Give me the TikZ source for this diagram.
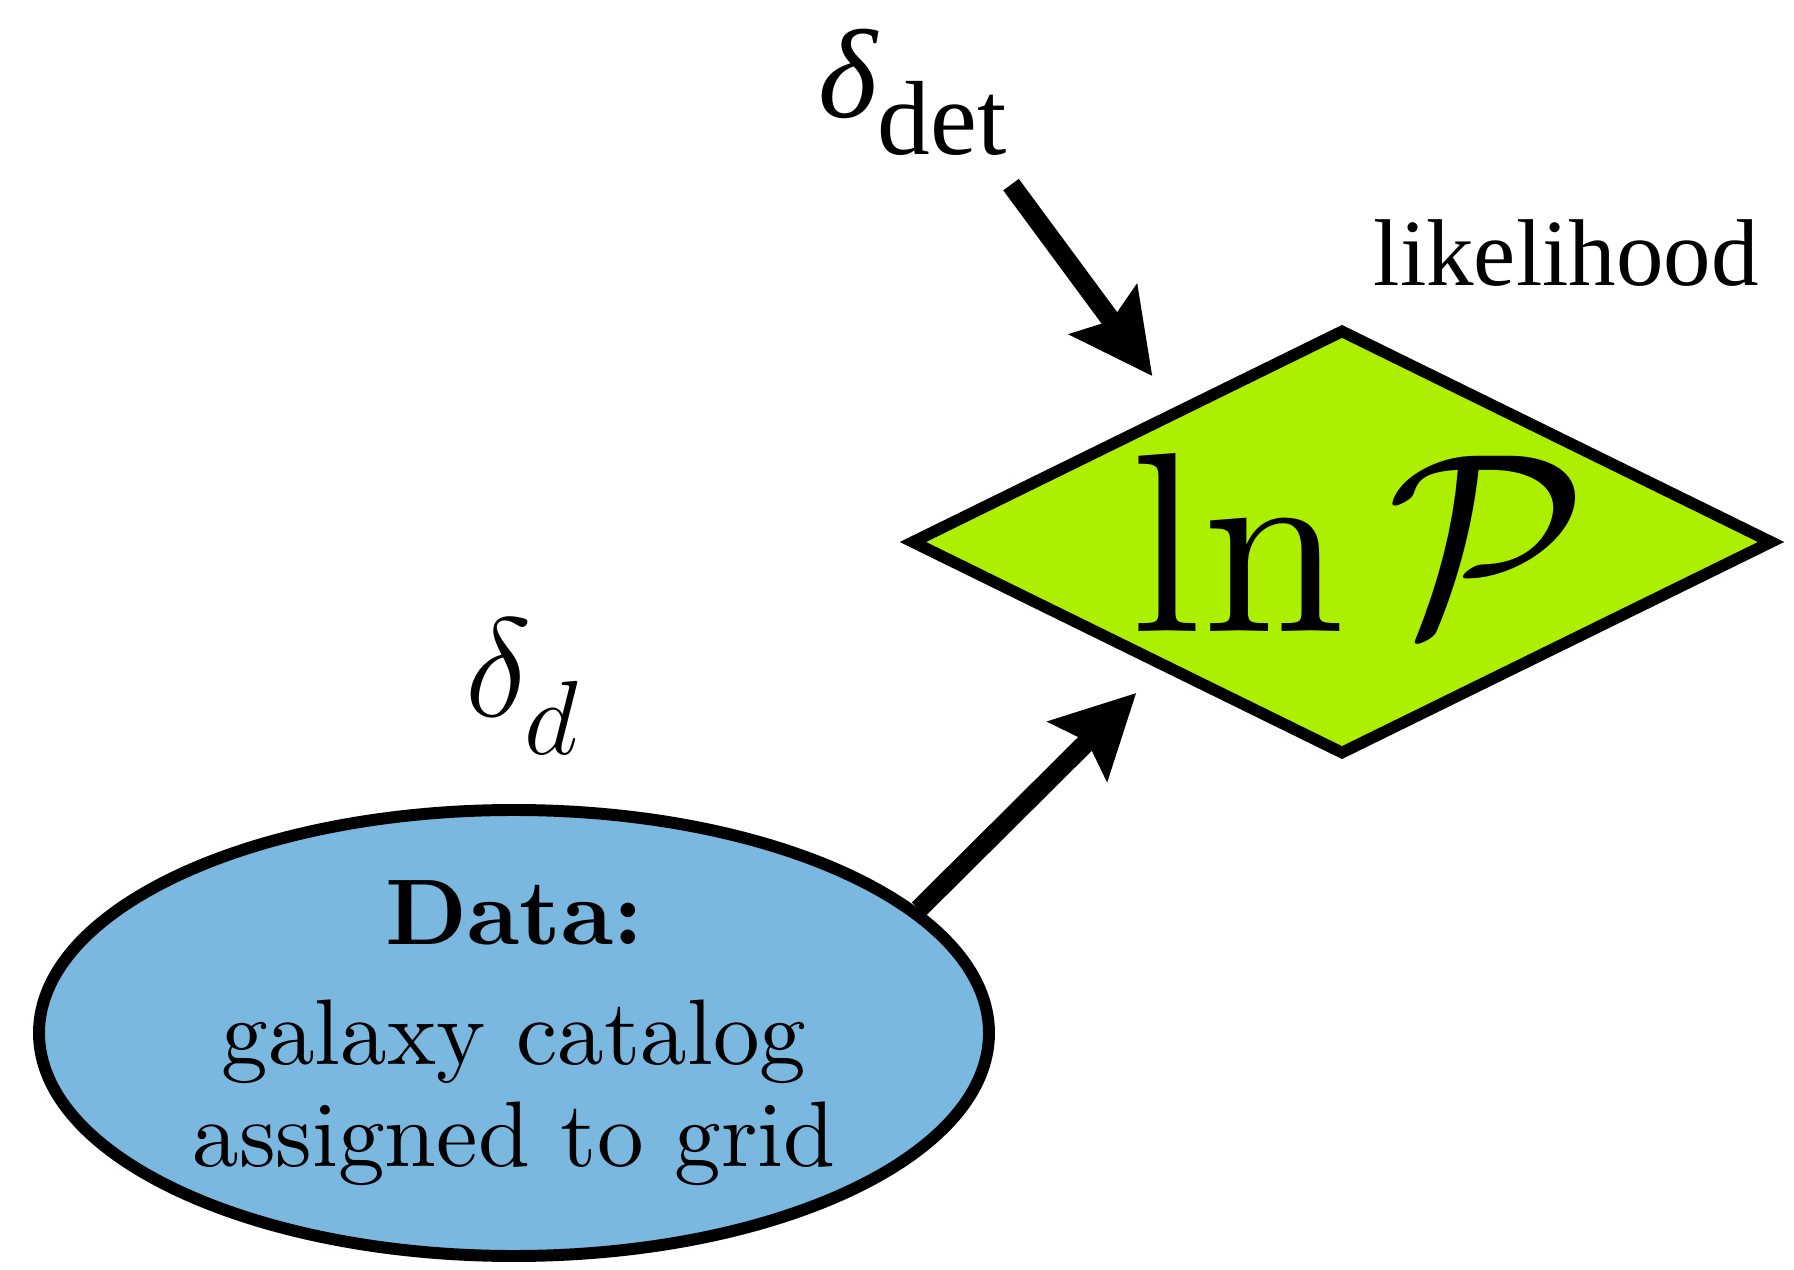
\RequirePackage{fix-cm}
\documentclass[tikz,border=0pt]{standalone}
\usepackage{fontspec}
\usetikzlibrary{shapes.geometric, arrows.meta}
\setmainfont{lmroman10}[Extension=.otf, UprightFont=*-regular, BoldFont=*-bold, ItalicFont=*-italic, BoldItalicFont=*-bolditalic]
\newfontfamily\timesfont{Liberation Serif}
\definecolor{likegreen}{RGB}{172,239,0}
\definecolor{datablue}{RGB}{122,184,223}

\begin{document}
\begin{tikzpicture}[
    flow/.style={line width=5.5pt, -{Stealth[length=0.82cm, width=0.82cm, inset=0.13cm]}},
    lbl/.style={inner sep=0pt, anchor=base west}
  ]
    \useasboundingbox (0,0) rectangle (17.94,12.69);

    % --- likelihood ---
    \node[diamond, draw, line width=3.3pt, fill=likegreen, shape aspect=2, minimum width=8.63cm, minimum height=4.26cm, inner sep=0pt] (lnP) at (13.42,7.27) {\hspace*{0.34cm}\fontsize{73}{80}\selectfont$\ln\mathcal{P}$};
    \node[lbl] (like) at (13.73,9.83) {\fontsize{27}{30}\selectfont\timesfont likelihood};

    % --- data ---
    \node[ellipse, draw, line width=3.4pt, fill=datablue, minimum width=9.5cm, minimum height=4.46cm, inner sep=0pt, align=center, font=\fontsize{26.5}{29}\selectfont] (data) at (5.14,2.36) {\textbf{Data:}\\[5pt] galaxy catalog\\ assigned to grid};

    % --- inputs ---
    \node[lbl] (ddet) at (8.18,11.51) {\timesfont\fontsize{36}{40}\selectfont\itshape δ\fontsize{30}{32}\selectfont\upshape\raisebox{-10.5pt}{det}};
    \node[lbl] (dd) at (4.65,5.52) {\fontsize{40}{44}\selectfont$\delta$\kern-2pt\raisebox{-10.8pt}{\fontsize{30}{32}\selectfont$d$}};

    % --- arrows ---
    \draw[flow, shorten >=0.38cm] ([shift={(0.04,-0.28)}]ddet.south east) -- (lnP.141);
    \draw[flow, shorten >=0.33cm] (data.17) -- (lnP.215);
\end{tikzpicture}
\end{document}
